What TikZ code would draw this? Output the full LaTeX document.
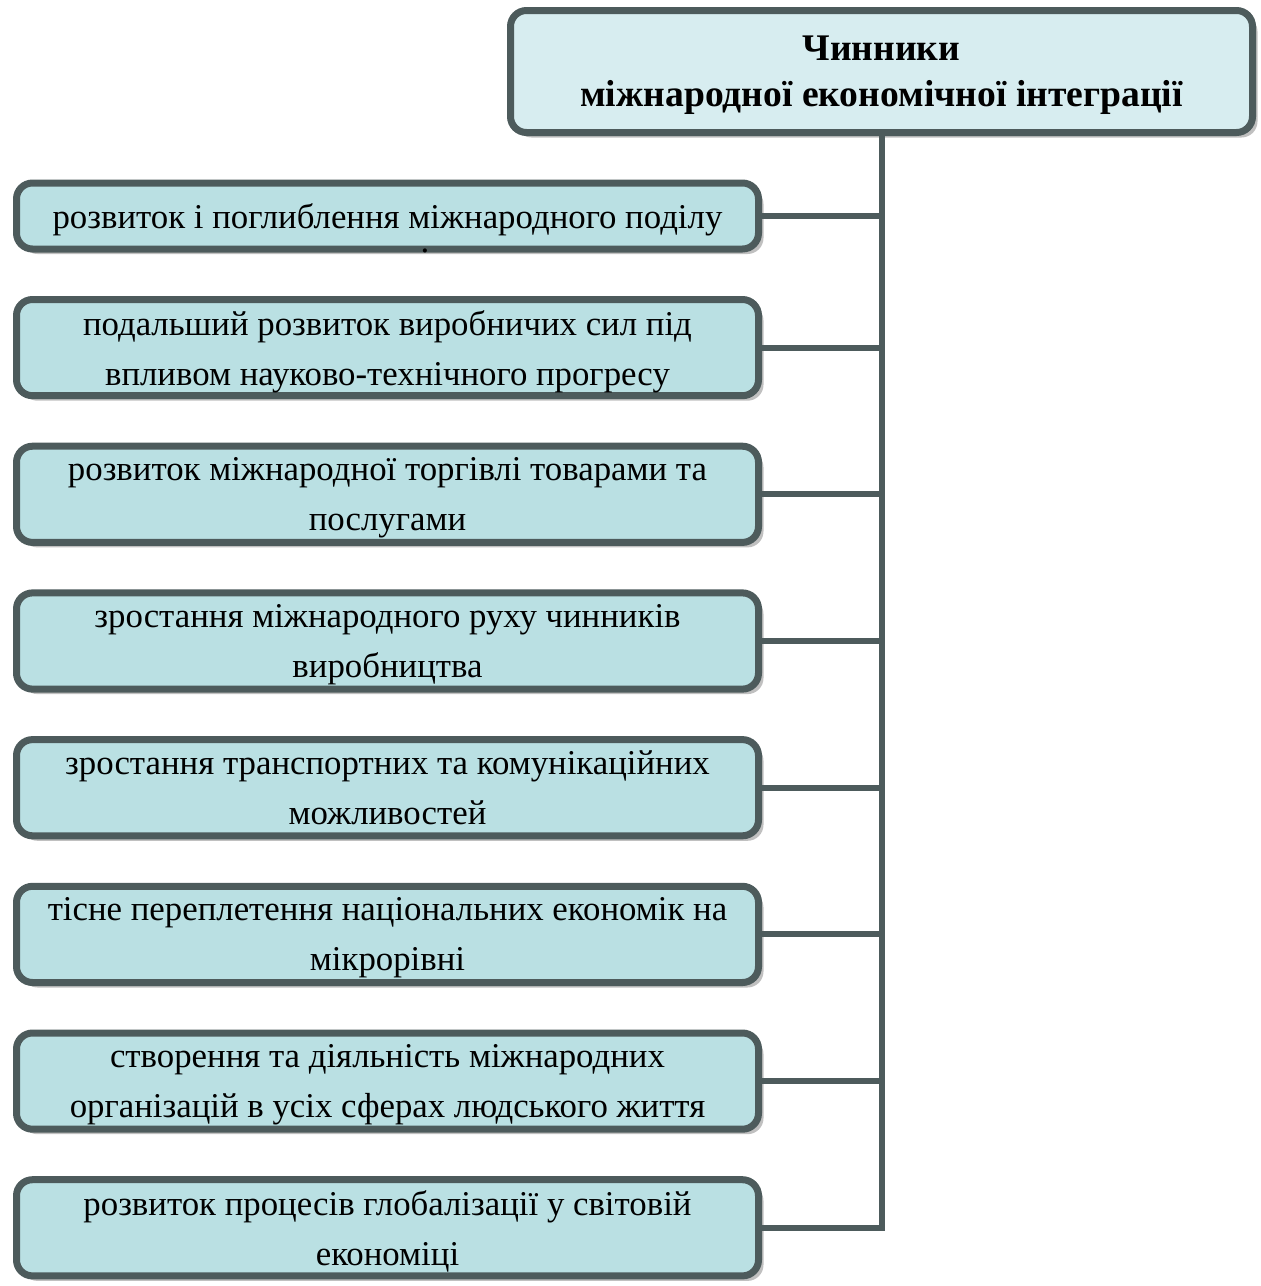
\documentclass[tikz,border=0pt]{standalone}
\usepackage{fontspec}
\setmainfont{Liberation Serif}
\usepackage{xcolor}
\usepackage{tikz}
\usetikzlibrary{positioning,shadows}

\definecolor{boxfill}{HTML}{BAE0E3}
\definecolor{headfill}{HTML}{D7EDF0}
\definecolor{edgegray}{HTML}{4D5B5C}
\definecolor{shadowgray}{HTML}{C0C0C0}

\begin{document}
\begin{tikzpicture}[
  x=0.5pt, y=-0.5pt,
  factor/.style={rectangle, draw=edgegray, fill=boxfill, line width=3.5pt,
                 rounded corners=8pt, minimum width=371pt, minimum height=48.1pt,
                 inner sep=0pt, align=center, font=\fontsize{17.4}{25}\selectfont,
                 text depth=0pt,
                 drop shadow={shadow xshift=2.5pt, shadow yshift=-2.5pt,
                              fill=shadowgray, opacity=1}},
  head/.style={factor, fill=headfill, minimum height=61pt,
               font=\bfseries\fontsize{18.8}{23}\selectfont},
  link/.style={draw=edgegray, line width=3pt},
  node distance=21.75pt,
]
  \useasboundingbox (0,0) rectangle (1261,1286);

  \node[head] (head) at (881.5,71.5) {Чинники\\міжнародної економічної інтеграції};

  \node[factor, minimum height=33pt] (f1) at (387.5,216) {розвиток і поглиблення міжнародного поділу};
  \node[inner sep=0pt, text height=1.5pt, text depth=0pt, anchor=base,
        font=\fontsize{17.4}{25}\selectfont] (f1dot) at (425,252) {.};
  \node[factor, below=of f1] (f2) {подальший розвиток виробничих сил під\\впливом науково-технічного прогресу};
  \node[factor, below=of f2] (f3) {розвиток міжнародної торгівлі товарами та\\послугами};
  \node[factor, below=of f3] (f4) {зростання міжнародного руху чинників\\виробництва};
  \node[factor, below=of f4] (f5) {зростання транспортних та комунікаційних\\можливостей};
  \node[factor, below=of f5] (f6) {тісне переплетення національних економік на\\мікрорівні};
  \node[factor, below=of f6] (f7) {створення та діяльність міжнародних\\організацій в усіх сферах людського життя};
  \node[factor, below=of f7] (f8) {розвиток процесів глобалізації у світовій\\економіці};

  % spine from the heading down to the last factor
  \draw[link] (head.south) -- (head.south |- f8.east);
  \draw[link] (f1.east) -- (f1.east -| head.south);
  \draw[link] (f2.east) -- (f2.east -| head.south);
  \draw[link] (f3.east) -- (f3.east -| head.south);
  \draw[link] (f4.east) -- (f4.east -| head.south);
  \draw[link] (f5.east) -- (f5.east -| head.south);
  \draw[link] (f6.east) -- (f6.east -| head.south);
  \draw[link] (f7.east) -- (f7.east -| head.south);
  \draw[link, line cap=rect] (f8.east) -- (f8.east -| head.south);
\end{tikzpicture}
\end{document}
